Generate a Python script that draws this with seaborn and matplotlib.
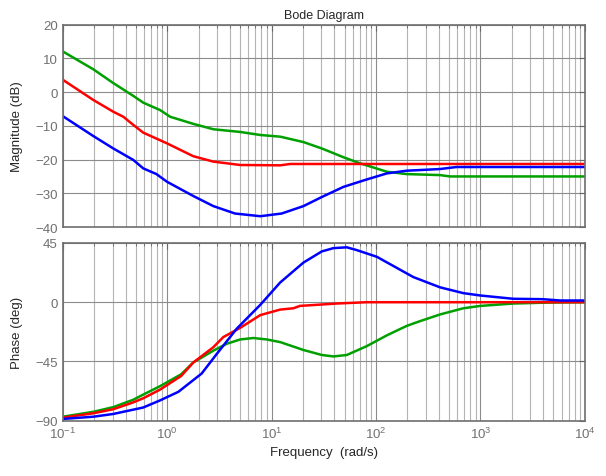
import numpy as np
import pandas as pd
import seaborn as sns
import matplotlib.pyplot as plt
from matplotlib.ticker import LogLocator, NullFormatter, FixedLocator

# Magnitude curves (dB)
mag_green_f = [0.1, 0.196, 0.305, 0.474, 0.59, 0.855, 1.07, 1.78, 2.77, 5.0, 7.8, 12.1, 20.2, 30.3, 48.8, 70.5, 127, 197, 411, 513, 1000, 10000]
mag_green = [12.1, 6.8, 2.7, -1.1, -3.1, -5.3, -7.3, -9.4, -11.0, -11.8, -12.7, -13.2, -14.8, -16.7, -19.3, -21.1, -23.6, -24.3, -24.6, -25.0, -25.0, -25.0]

mag_red_f = [0.1, 0.196, 0.305, 0.381, 0.474, 0.59, 1.0, 1.78, 2.77, 5.0, 12.1, 15.1, 10000]
mag_red = [3.7, -2.3, -5.8, -7.3, -9.7, -12.0, -15.2, -19.0, -20.6, -21.6, -21.7, -21.3, -21.3]

mag_blue_f = [0.1, 0.196, 0.305, 0.474, 0.59, 0.79, 1.0, 1.78, 2.77, 4.47, 7.8, 12.5, 20.2, 30.3, 48.8, 81.5, 127, 197, 411, 590, 10000]
mag_blue = [-7.1, -13.0, -16.7, -20.1, -22.6, -24.3, -26.6, -30.8, -33.8, -36.0, -36.8, -36.0, -33.8, -31.1, -28.1, -25.9, -24.1, -23.3, -22.8, -22.2, -22.2]

# Phase curves (deg)
ph_green_f = [0.1, 0.196, 0.305, 0.474, 0.59, 0.855, 1.36, 1.78, 2.77, 3.72, 5.0, 6.7, 9.0, 12.1, 20.2, 30.3, 39.2, 52.6, 81.5, 127, 197, 264, 411, 687, 1000, 2070, 4325, 10000]
ph_green = [-87.0, -83.3, -79.7, -74.1, -70.2, -63.8, -54.8, -45.8, -36.8, -31.6, -28.3, -27.2, -28.3, -30.3, -36.3, -40.1, -41.2, -40.1, -33.4, -25.2, -18.0, -14.4, -9.3, -4.6, -2.8, -1.0, -0.3, 0.0]

ph_red_f = [0.1, 0.196, 0.305, 0.474, 0.59, 0.855, 1.36, 1.78, 2.77, 3.45, 5.0, 7.8, 12.1, 16.2, 18.7, 42, 81.5, 10000]
ph_red = [-87.7, -84.4, -81.3, -76.1, -73.0, -66.4, -56.1, -45.8, -34.2, -26.5, -19.5, -9.8, -5.6, -4.6, -2.8, -1.0, 0.0, 0.0]

ph_blue_f = [0.1, 0.196, 0.305, 0.59, 0.855, 1.28, 2.14, 2.98, 4.64, 7.8, 12.1, 20.2, 30.3, 39.2, 52.6, 65.5, 102, 147, 228, 411, 687, 1000, 2070, 3970, 5800, 10000]
ph_blue = [-88.7, -87.0, -84.9, -80.0, -74.6, -68.1, -54.2, -39.4, -20.1, -2.0, 15.0, 30.1, 38.6, 41.1, 41.7, 39.6, 34.5, 27.5, 19.1, 11.3, 6.9, 5.1, 2.6, 2.3, 1.3, 1.3]

mag_ticks = [-40, -30, -20, -10, 0, 10, 20]
ph_ticks = [-90, -45, 0, 45]

GREEN = "#00a000"
RED = "#ff0000"
BLUE = "#0000ff"

sns.set_style("white")
plt.rcParams["font.family"] = ["Liberation Sans", "DejaVu Sans"]
plt.rcParams["font.size"] = 9
plt.rcParams["mathtext.fontset"] = "custom"
plt.rcParams["mathtext.rm"] = "Liberation Sans"
plt.rcParams["mathtext.it"] = "Liberation Sans:italic"
plt.rcParams["mathtext.default"] = "regular"

fig = plt.figure(figsize=(6.06, 4.77), dpi=100)
ax1 = fig.add_axes([0.1035, 0.522, 0.8615, 0.424])
ax2 = fig.add_axes([0.1035, 0.116, 0.8615, 0.3725])

for f, v, c in [(mag_green_f, mag_green, GREEN), (mag_red_f, mag_red, RED), (mag_blue_f, mag_blue, BLUE)]:
    sns.lineplot(x=f, y=v, color=c, linewidth=1.8, ax=ax1)
for f, v, c in [(ph_green_f, ph_green, GREEN), (ph_red_f, ph_red, RED), (ph_blue_f, ph_blue, BLUE)]:
    sns.lineplot(x=f, y=v, color=c, linewidth=1.8, ax=ax2)

for ax, lim, ticks in [(ax1, (-40, 20), mag_ticks), (ax2, (-90, 45), ph_ticks)]:
    ax.set_xscale("log")
    ax.set_xlim(0.1, 1e4)
    ax.set_ylim(*lim)
    ax.yaxis.set_major_locator(FixedLocator(ticks))
    ax.xaxis.set_major_locator(LogLocator(base=10, numticks=10))
    ax.xaxis.set_minor_locator(LogLocator(base=10, subs=np.arange(2, 10), numticks=20))
    ax.xaxis.set_minor_formatter(NullFormatter())
    ax.grid(True, which="major", color="#8c8c8c", linewidth=0.8)
    ax.grid(True, which="minor", axis="x", color="#b4b4b4", linewidth=0.8)
    ax.set_axisbelow(True)
    ax.tick_params(which="both", direction="in", top=True, right=True,
                   color="#666666", labelcolor="#707070", labelsize=9.5)
    ax.tick_params(which="major", length=4)
    ax.tick_params(which="minor", length=2.5)
    for s in ax.spines.values():
        s.set_color("#6e6e6e")
        s.set_linewidth(1.2)

ax1.set_xticklabels([])
ax1.set_title("Bode Diagram", fontsize=9, pad=5)
ax1.set_ylabel("Magnitude (dB)", fontsize=9.5)
ax2.set_ylabel("Phase (deg)", fontsize=9.5)
ax2.set_xlabel("Frequency  (rad/s)", fontsize=9.5)
ax1.yaxis.set_label_coords(-0.077, 0.5)
ax2.yaxis.set_label_coords(-0.077, 0.5)

fig.savefig("out.png", dpi=100)
